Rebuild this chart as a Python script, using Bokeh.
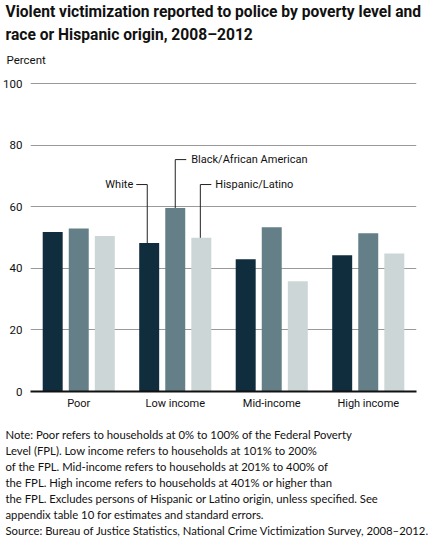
from bokeh.plotting import figure
from bokeh.models import ColumnDataSource, FactorRange, Range1d, Title, FixedTicker
from bokeh.transform import dodge
from bokeh.core.properties import value
from bokeh.embed import file_html
from bokeh.resources import INLINE

groups = ["Poor", "Low income", "Mid-income", "High income"]
white = [51.8, 48.2, 42.9, 44.2]
black = [52.9, 59.6, 53.3, 51.4]
hispanic = [50.5, 49.9, 35.8, 44.8]
y_ticks = [0, 20, 40, 60, 80, 100]

title_lines = ["Violent victimization reported to police by poverty level and",
               "race or Hispanic origin, 2008\u20132012"]
notes = ["Note: Poor refers to households at 0% to 100% of the Federal Poverty",
         "Level (FPL). Low income refers to households at 101% to 200%",
         "of the FPL. Mid-income refers to households at 201% to 400% of",
         "the FPL. High income refers to households at 401% or higher than",
         "the FPL. Excludes persons of Hispanic or Latino origin, unless specified. See",
         "appendix table 10 for estimates and standard errors.",
         "Source: Bureau of Justice Statistics, National Crime Victimization Survey, 2008\u20132012."]

colors = ["#0f2d3d", "#647f87", "#cdd6d6"]
COND = "Roboto"
NOTE = "Lato"
INK = "#111111"

source = ColumnDataSource(data=dict(groups=groups, white=white, black=black, hispanic=hispanic))

# the range runs a little past 100 so that "Percent" keeps its gap above the top gridline
p = figure(x_range=FactorRange(*groups, range_padding=0), y_range=Range1d(0, 103.9),
           frame_width=386, frame_height=320, title=None,
           output_backend="svg", toolbar_location=None,
           min_border_left=0, min_border_right=13, min_border_top=0, min_border_bottom=0)
p.outline_line_color = None

off = 0.27
bw = 0.207
p.vbar(x=dodge("groups", -off, range=p.x_range), top="white", width=bw, source=source,
       color=colors[0], line_color=None)
p.vbar(x=dodge("groups", 0, range=p.x_range), top="black", width=bw, source=source,
       color=colors[1], line_color=None)
p.vbar(x=dodge("groups", off, range=p.x_range), top="hispanic", width=bw, source=source,
       color=colors[2], line_color=None)

# grid / axes
p.xgrid.grid_line_color = None
p.ygrid.grid_line_color = "#9a9a9a"
p.ygrid.grid_line_width = 1
p.ygrid.level = "underlay"
p.yaxis.ticker = FixedTicker(ticks=y_ticks)
p.yaxis.axis_line_color = None
p.yaxis.major_tick_line_color = None
p.yaxis.minor_tick_line_color = None
p.yaxis.major_tick_out = 0
p.yaxis.minor_tick_out = 0
p.yaxis.major_label_text_font = COND
p.yaxis.major_label_text_font_size = "11.5px"
p.yaxis.major_label_text_color = INK
p.yaxis.major_label_standoff = 8

p.xaxis.axis_line_color = INK
p.xaxis.axis_line_width = 2
p.xaxis.major_tick_line_color = None
p.xaxis.minor_tick_line_color = None
p.xaxis.major_tick_out = 0
p.xaxis.minor_tick_out = 0
p.xaxis.major_label_text_font = COND
p.xaxis.major_label_text_font_size = "11px"
p.xaxis.major_label_text_color = INK
p.xaxis.major_label_standoff = 5

# leader lines for the legend, on the "Low income" bars
lead = ColumnDataSource(data=dict(g=["Low income"], w=[white[1]], b=[black[1]], h=[hispanic[1]],
                                  wy=[67.2], by=[75.3], hy=[67.2]))
hs = 0.114
wx = -off - 0.02
hx = off - 0.01
p.segment(x0=dodge("g", wx, range=p.x_range), x1=dodge("g", wx, range=p.x_range),
          y0="wy", y1="w", source=lead, line_color="#222222", line_width=1)
p.segment(x0=dodge("g", wx - hs, range=p.x_range), x1=dodge("g", wx, range=p.x_range),
          y0="wy", y1="wy", source=lead, line_color="#222222", line_width=1)
p.segment(x0=dodge("g", 0, range=p.x_range), x1=dodge("g", 0, range=p.x_range),
          y0="by", y1="b", source=lead, line_color="#222222", line_width=1)
p.segment(x0=dodge("g", 0, range=p.x_range), x1=dodge("g", hs, range=p.x_range),
          y0="by", y1="by", source=lead, line_color="#222222", line_width=1)
p.segment(x0=dodge("g", hx, range=p.x_range), x1=dodge("g", hx, range=p.x_range),
          y0="hy", y1="h", source=lead, line_color="#222222", line_width=1)
p.segment(x0=dodge("g", hx, range=p.x_range), x1=dodge("g", hx + hs, range=p.x_range),
          y0="hy", y1="hy", source=lead, line_color="#222222", line_width=1)

p.text(x=dodge("g", wx - hs, range=p.x_range), y="wy", text=value("White"), source=lead,
       x_offset=-3, text_align="right", text_baseline="middle", text_font=value(COND),
       text_font_size="11px", text_color=INK)
p.text(x=dodge("g", hs, range=p.x_range), y="by", text=value("Black/African American"), source=lead,
       x_offset=5, text_align="left", text_baseline="middle", text_font=value(COND),
       text_font_size="11px", text_color=INK)
p.text(x=dodge("g", hx + hs, range=p.x_range), y="hy", text=value("Hispanic/Latino"), source=lead,
       x_offset=4, text_align="left", text_baseline="middle", text_font=value(COND),
       text_font_size="11px", text_color=INK)

# header: first added sits closest to the frame
p.add_layout(Title(text="Percent", align="left", offset=-24, standoff=9,
                   text_font=COND, text_font_style="normal", text_font_size="11.5px",
                   text_color=INK), "above")
p.add_layout(Title(text=title_lines[1], align="left", offset=-25, standoff=6,
                   text_font=COND, text_font_style="bold", text_font_size="15.6px",
                   text_color=INK), "above")
p.add_layout(Title(text=title_lines[0], align="left", offset=-25, standoff=0,
                   text_font=COND, text_font_style="bold", text_font_size="15.6px",
                   text_color=INK), "above")

# blank strip between the category labels and the notes
p.add_layout(Title(text=" ", standoff=10, text_font_size="1px"), "below")
for t in notes:
    p.add_layout(Title(text=t, align="left", offset=-25, standoff=0.8,
                       text_font=NOTE, text_font_style="normal", text_font_size="11.3px",
                       text_color=INK), "below")

open("out.html", "w").write(file_html(p, INLINE))
